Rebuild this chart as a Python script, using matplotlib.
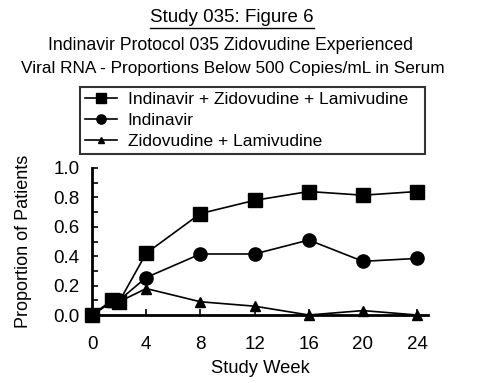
import numpy as np
import matplotlib
matplotlib.use('Agg')
from matplotlib import pyplot as plt
from matplotlib.lines import Line2D

plt.rcParams['font.family'] = ['Liberation Sans', 'DejaVu Sans']

weeks = [0, 1.5, 2, 4, 8, 12, 16, 20, 24]
idv_zdv_3tc = [0.0, 0.10, 0.09, 0.42, 0.69, 0.78, 0.84, 0.815, 0.84]
idv = [0.0, 0.10, 0.10, 0.255, 0.415, 0.415, 0.51, 0.365, 0.385]
zdv_3tc = [0.0, 0.09, 0.09, 0.18, 0.09, 0.06, 0.0, 0.03, 0.0]
labels = ['Indinavir + Zidovudine + Lamivudine', 'Indinavir', 'Zidovudine + Lamivudine']
xticks = [0, 4, 8, 12, 16, 20, 24]

fig = plt.figure(figsize=(4.8, 3.83), dpi=100)
ax = fig.add_axes([92/480, 1-315/383, (428-92)/480, (315-168)/383])

ax.plot(weeks, idv_zdv_3tc, '-s', color='black', lw=1.2, ms=10, label=labels[0])
ax.plot(weeks, idv, '-o', color='black', lw=1.2, ms=9.5, label=labels[1])
ax.plot(weeks, zdv_3tc, '-^', color='black', lw=1.2, ms=7, label=labels[2])

ax.set_xlim(0, 24.8)
ax.set_ylim(0, 1.0)
ax.set_xticks(xticks)
ax.set_yticks(np.arange(0, 1.01, 0.2))
ax.set_yticks(np.arange(0, 1.01, 0.1), minor=True)
ax.set_yticklabels(['%.1f' % v for v in np.arange(0, 1.01, 0.2)])
ax.tick_params(axis='both', which='both', direction='in', length=4, width=1.2, labelsize=13.5)
ax.tick_params(axis='y', pad=9)
ax.tick_params(axis='x', pad=15)
for s in ['top', 'right']:
    ax.spines[s].set_visible(False)
for s in ['left', 'bottom']:
    ax.spines[s].set_linewidth(2)
for t in ax.get_xticklines() + ax.get_yticklines():
    t.set_clip_on(False)
for a in ax.lines:
    a.set_clip_on(False)

ax.set_xlabel('Study Week', fontsize=13.2, labelpad=5)
ax.set_ylabel('Proportion of Patients', fontsize=13, labelpad=15)

leg = fig.legend(loc='upper left', bbox_to_anchor=(80/480, 1-155/383, 345/480, 68/383),
                 mode='expand', fontsize=12.5,
                 frameon=True, fancybox=False, edgecolor='black', borderpad=0.3,
                 labelspacing=0.33, handlelength=1.85, handletextpad=0.6,
                 markerscale=0.7, borderaxespad=0)
leg.get_frame().set_linewidth(1.5)

fig.text(0.483, 1-18/383, 'Study 035: Figure 6', ha='center', va='center', fontsize=13.5)
fig.text(0.48, 1-45/383, 'Indinavir Protocol 035 Zidovudine Experienced', ha='center', va='center', fontsize=12.7)
fig.text(0.484, 1-68/383, 'Viral RNA - Proportions Below 500 Copies/mL in Serum', ha='center', va='center', fontsize=12.4)

# underline the first title line
fig.canvas.draw()
t0 = fig.texts[0]
bb = t0.get_window_extent()
fig.add_artist(Line2D([bb.x0/480, bb.x1/480], [(bb.y0-1)/383, (bb.y0-1)/383],
                      transform=fig.transFigure, color='black', lw=1))

fig.savefig('out.png', dpi=100)
